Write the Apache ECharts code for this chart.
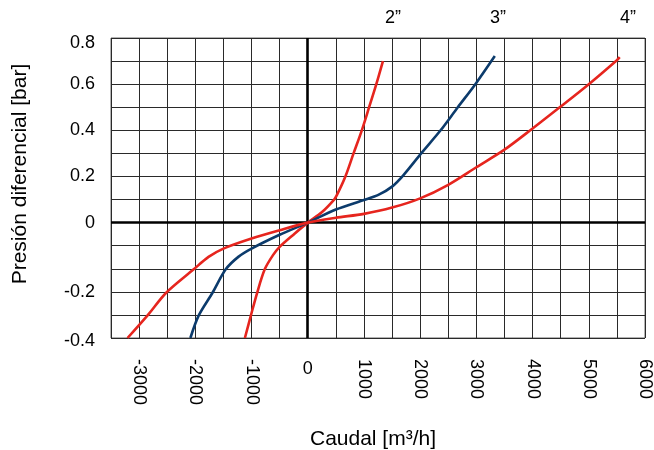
<!DOCTYPE html>
<html>
<head>
<meta charset="utf-8">
<script src="https://cdn.jsdelivr.net/npm/echarts@6/dist/echarts.min.js"></script>
<style>
html,body{margin:0;padding:0;background:#fff;}
#chart{width:654px;height:450px;}
</style>
</head>
<body>
<div id="chart"></div>
<script>
// ---- data (flow in m³/h, differential pressure in bar) ----
const seriesNames = ['2”', '3”', '4”'];

const flow2  = [-1118, -1012, -900, -765, -618, -500, -235, 0, 250, 470, 520, 670, 815, 962, 1092, 1220, 1338];
const press2 = [-0.4, -0.303, -0.204, -0.135, -0.094, -0.070, -0.032, 0, 0.045, 0.10, 0.12, 0.20, 0.30, 0.40, 0.50, 0.60, 0.70];

const flow3  = [-2088, -1941, -1694, -1459, -1235, -1000, -500, 0, 500, 1000, 1256, 1500, 1700, 2018, 2364, 2670, 2982, 3328];
const press3 = [-0.4, -0.303, -0.204, -0.135, -0.099, -0.075, -0.035, 0, 0.057, 0.098, 0.120, 0.156, 0.205, 0.30, 0.40, 0.50, 0.60, 0.722];

const flow4  = [-3206, -2853, -2518, -2029, -1765, -1500, -1000, -500, 0, 500, 1000, 1500, 2000, 2500, 3000, 3500, 4000, 4500, 5000, 5500, 5550];
const press4 = [-0.4, -0.303, -0.204, -0.135, -0.099, -0.075, -0.046, -0.022, 0, 0.021, 0.038, 0.065, 0.105, 0.164, 0.240, 0.316, 0.408, 0.503, 0.600, 0.704, 0.717];

// tick labels
const xTickValues = [-3000, -2000, -1000, 0, 1000, 2000, 3000, 4000, 5000, 6000];
const yTickValues = [0.8, 0.6, 0.4, 0.2, 0, -0.2, -0.4];

const xTitle = 'Caudal [m³/h]';
const yTitle = 'Presión diferencial [bar]';

// The original y scale is piecewise: 0.1 bar per grid row above zero,
// 0..-0.2 bar over 3 rows, -0.2..-0.4 bar over 2 rows.
function barToRow(p) {
  if (p >= 0) return p * 10;
  if (p >= -0.2) return p * 15;
  return -3 + (p + 0.2) * 10;
}
function rowToBar(r) {
  if (r >= 0) return r / 10;
  if (r >= -3) return r / 15;
  return -0.2 + (r + 3) / 10;
}

function pairs(xs, ys) { return xs.map((x, i) => [x, barToRow(ys[i])]); }

const FONT = 'Liberation Sans, Arial, Helvetica, sans-serif';
const RED = '#e6251e';
const BLUE = '#0c3b6c';

const chart = echarts.init(document.getElementById('chart'), null, {renderer: 'canvas'});

const lineCommon = {
  type: 'line', showSymbol: false, symbol: 'none', smooth: 0.3,
  xAxisIndex: 0, yAxisIndex: 0, z: 5, silent: true
};

chart.setOption({
  animation: false,
  backgroundColor: '#fff',
  grid: {left: 111, top: 38, width: 536, height: 300, show: true, borderColor: '#666', borderWidth: 1, backgroundColor: 'transparent'},
  xAxis: [{
    type: 'value', min: -3500, max: 6000, interval: 500,
    axisLine: {show: false}, axisTick: {show: false},
    splitLine: {show: true, lineStyle: {color: '#2a2a2a', width: 1}},
    axisLabel: {
      rotate: -90, margin: 21, fontSize: 18, color: '#000', fontFamily: FONT,
      formatter: v => (v !== 0 && xTickValues.includes(v)) ? String(v) : ''
    }
  }, {
    type: 'value', min: -3500, max: 6000, interval: 500, position: 'bottom',
    axisLine: {show: false}, axisTick: {show: false}, splitLine: {show: false},
    axisLabel: {
      rotate: 0, margin: 22, fontSize: 18, color: '#000', fontFamily: FONT,
      formatter: v => (v === 0 && xTickValues.includes(v)) ? '0' : ''
    }
  }],
  yAxis: {
    type: 'value', min: -5, max: 8, interval: 1,
    axisLine: {show: false}, axisTick: {show: false},
    splitLine: {show: true, lineStyle: {color: '#2a2a2a', width: 1}},
    axisLabel: {
      margin: 16, fontSize: 18, color: '#000', fontFamily: FONT,
      rich: {
        top: {fontSize: 18, fontFamily: FONT, color: '#000', padding: [11, 0, 0, 0]},
        bot: {fontSize: 18, fontFamily: FONT, color: '#000', padding: [6, 0, 0, 0]}
      },
      formatter: r => {
        const b = rowToBar(r);
        const hit = yTickValues.find(t => Math.abs(t - b) < 1e-6);
        if (hit === undefined) return '';
        if (r === 8) return '{top|' + hit + '}';
        if (r === -5) return '{bot|' + hit + '}';
        return String(hit);
      }
    }
  },
  series: [
    {
      type: 'line', data: [], xAxisIndex: 0, yAxisIndex: 0, z: 3, silent: true,
      markLine: {
        silent: true, symbol: 'none', animation: false,
        label: {show: false},
        lineStyle: {color: '#000', width: 2.6, type: 'solid'},
        emphasis: {disabled: true},
        data: [{yAxis: 0}, {xAxis: 0}]
      }
    },
    Object.assign({}, lineCommon, {name: seriesNames[0], data: pairs(flow2, press2), lineStyle: {color: RED, width: 2.6}, itemStyle: {color: RED}}),
    Object.assign({}, lineCommon, {name: seriesNames[1], data: pairs(flow3, press3), lineStyle: {color: BLUE, width: 2.6}, itemStyle: {color: BLUE}}),
    Object.assign({}, lineCommon, {name: seriesNames[2], data: pairs(flow4, press4), lineStyle: {color: RED, width: 2.6}, itemStyle: {color: RED}})
  ],
  graphic: [
    {type: 'text', x: 373, y: 439, style: {text: xTitle, font: '21px ' + FONT, fill: '#000', align: 'center', verticalAlign: 'middle'}},
    {type: 'text', x: 20, y: 174, rotation: Math.PI / 2, style: {text: yTitle, font: '21px ' + FONT, fill: '#000', align: 'center', verticalAlign: 'middle'}},
    {type: 'text', x: 393, y: 18, style: {text: seriesNames[0], font: '18px ' + FONT, fill: '#000', align: 'center', verticalAlign: 'middle'}},
    {type: 'text', x: 498, y: 18, style: {text: seriesNames[1], font: '18px ' + FONT, fill: '#000', align: 'center', verticalAlign: 'middle'}},
    {type: 'text', x: 628, y: 18, style: {text: seriesNames[2], font: '18px ' + FONT, fill: '#000', align: 'center', verticalAlign: 'middle'}}
  ]
});
</script>
</body>
</html>
